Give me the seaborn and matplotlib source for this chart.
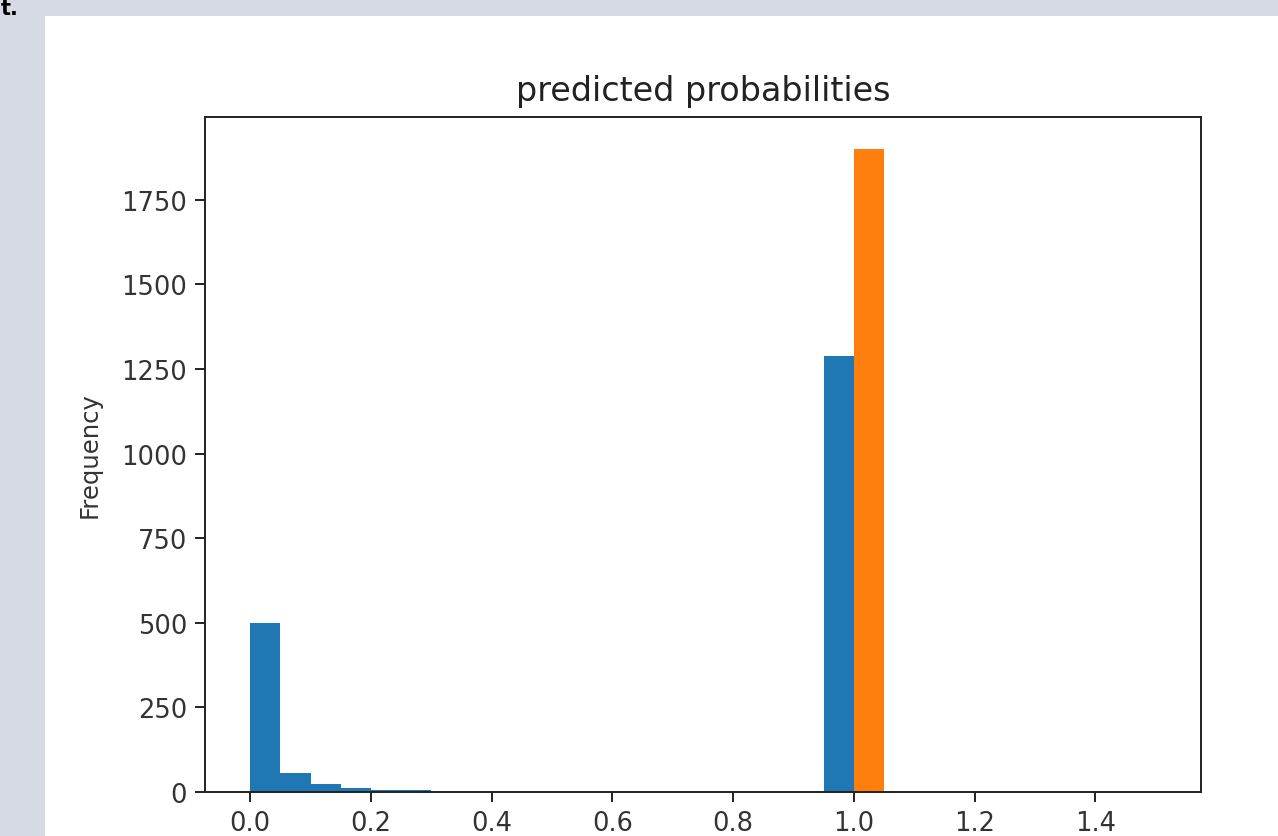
import numpy as np
import pandas as pd
import matplotlib
matplotlib.use("Agg")
import matplotlib.pyplot as plt
import seaborn as sns
from matplotlib.patches import Rectangle

# ---- data ----
blue_prob = [0.025, 0.075, 0.125, 0.175, 0.225, 0.275, 0.975]
blue_count = [500, 56, 24, 12, 7, 5, 1290]
orange_prob = [1.025]
orange_count = [1900]
bin_start, bin_stop, bin_width = 0.0, 1.5, 0.05
x_ticks = [0.0, 0.2, 0.4, 0.6, 0.8, 1.0, 1.2, 1.4]
y_ticks = [0, 250, 500, 750, 1000, 1250, 1500, 1750]
title = "predicted probabilities"
ylabel = "Frequency"

blue_df = pd.DataFrame({"prob": blue_prob, "count": blue_count})
orange_df = pd.DataFrame({"prob": orange_prob, "count": orange_count})

sns.set_style("ticks")
plt.rcParams['font.family'] = ['DejaVu Sans']

W, H = 1278, 837
fig = plt.figure(figsize=(W / 100, H / 100), dpi=100)
fig.patch.set_facecolor("#d6dbe3")
fig.patches.append(Rectangle((45 / W, 0), 1 - 45 / W, 1 - 17 / H,
                             transform=fig.transFigure, facecolor="white",
                             edgecolor="none", zorder=-10))
fig.text(1 / W, 1 - 15 / H, "t.", fontsize=15, fontweight="bold",
         color="black", va="baseline", ha="left")

ax = fig.add_axes([205 / W, 1 - 793 / H, (1201 - 205) / W, (793 - 118) / H])
ax.set_zorder(5)
ax.set_facecolor("white")

sns.histplot(data=blue_df, x="prob", weights="count", binwidth=bin_width,
             binrange=(bin_start, bin_stop), color="#1f77b4",
             alpha=1, linewidth=0, ax=ax)
sns.histplot(data=orange_df, x="prob", weights="count", binwidth=bin_width,
             binrange=(bin_start, bin_stop), color="#ff7f0e",
             alpha=1, linewidth=0, ax=ax)

ax.set_xlim(-0.075, 1.575)
ax.set_ylim(0, 1995)
ax.set_xticks(x_ticks)
ax.set_xticklabels([f"{v:.1f}" for v in x_ticks])
ax.set_yticks(y_ticks)
ax.set_yticklabels([str(v) for v in y_ticks])

for s in ax.spines.values():
    s.set_visible(True)
    s.set_color("#222222")
    s.set_linewidth(1.4)
ax.tick_params(axis="both", length=7, width=1.4, color="#222222",
               labelsize=18.5, labelcolor="#333333", pad=6)
ax.set_xlabel("")
ax.set_ylabel(ylabel, fontsize=17.5, color="#333333", labelpad=14)
ax.set_title(title, fontsize=24, color="#222222", pad=12)

fig.savefig("out.png", dpi=100, facecolor=fig.get_facecolor())
